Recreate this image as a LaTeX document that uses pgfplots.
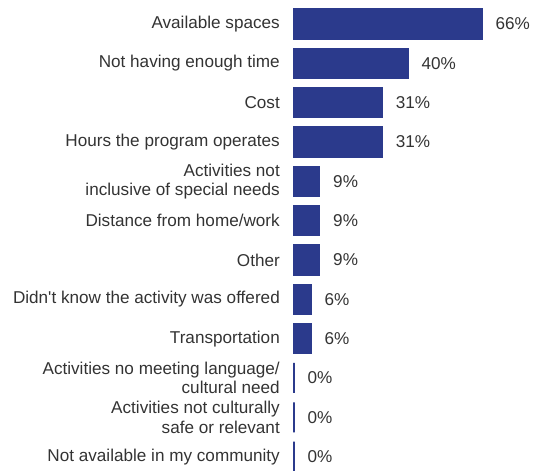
\documentclass[border=0pt]{standalone}
\usepackage{fontspec}
\setmainfont{Liberation Sans}
\usepackage{pgfplots}
\pgfplotsset{compat=1.18}
\definecolor{barblue}{RGB}{43,58,140}
\definecolor{txt}{RGB}{51,51,51}
\begin{document}
\fontsize{17.2}{19.5}\selectfont
\begin{tikzpicture}[font=\fontsize{17.2}{19.5}\selectfont]
\begin{axis}[
  at={(0,0)}, anchor=south west,
  scale only axis, width=240bp, height=471bp,
  xbar, bar width=30bp,
  xmin=0, xmax=84.27,
  ymin=-0.61, ymax=11.365, y dir=reverse,
  ytick={0,...,11},
  yticklabels={
    Available spaces,
    Not having enough time,
    Cost,
    Hours the program operates,
    {Activities not\hspace{5bp}\\inclusive of special needs},
    Distance from home/work,
    Other,
    Didn\textquotesingle t know the activity was offered,
    Transportation,
    {Activities no meeting language/\\cultural need},
    {Activities not culturally\hspace{5bp}\\safe or relevant},
    Not available in my community},
  xtick=\empty,
  axis line style={draw=none},
  major tick length=0pt,
  /pgf/number format/assume math mode=true,
  y tick label style={align=right, anchor=east, inner sep=0pt, xshift=-14bp, text=txt},
  nodes near coords={\pgfmathprintnumber{\pgfplotspointmeta}\%},
  nodes near coords style={anchor=west, inner sep=0pt, xshift=13bp, text=txt},
  point meta=x,
  clip=false,
]
\addplot[fill=barblue, draw=barblue, line width=1.2bp] coordinates {
  (66,0) (40,1) (31,2) (31,3) (9,4) (9,5) (9,6) (6,7) (6,8) (0,9) (0,10) (0,11)};
\end{axis}
\pgfresetboundingbox
\useasboundingbox (-294bp,0) rectangle (240bp,471bp);
\end{tikzpicture}
\end{document}
